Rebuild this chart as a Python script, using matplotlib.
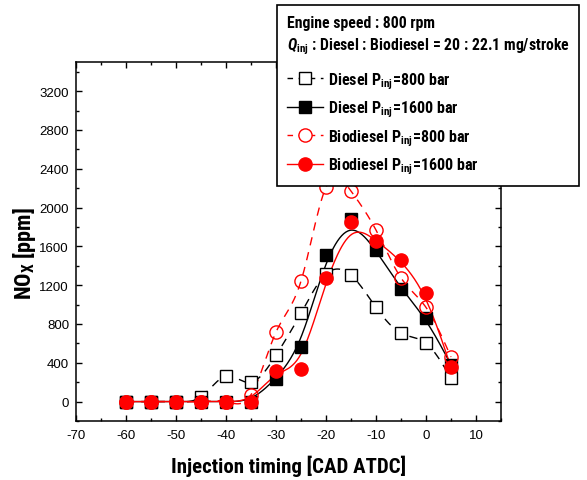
import numpy as np
import matplotlib
matplotlib.use('Agg')
import matplotlib.pyplot as plt
from matplotlib.lines import Line2D
from matplotlib import font_manager as fm
from matplotlib.ticker import MultipleLocator

# ---------------- data ----------------
timing = [-60, -55, -50, -45, -40, -35, -30, -25, -20, -15, -10, -5, 0, 5]
diesel_800 = [0, 0, 0, 50, 261, 199, 478, 910, 1314, 1303, 971, 705, 602, 240]
diesel_1600 = [0, 0, 0, 0, 0, 0, 230, 561, 1510, 1882, 1564, 1160, 862, 380]
bio_800 = [0, 0, 0, 0, 0, 70, 716, 1242, 2210, 2170, 1768, 1275, 971, 460]
bio_1600 = [0, 0, 0, 0, 0, 0, 320, 340, 1270, 1846, 1660, 1459, 1120, 353]

x_ticks = [-70, -60, -50, -40, -30, -20, -10, 0, 10]
y_ticks = [0, 400, 800, 1200, 1600, 2000, 2400, 2800, 3200]

# pick a narrow bold sans family (Arial Narrow look-alike)
bold_names = {f.name for f in fm.fontManager.ttflist
              if (f.weight if isinstance(f.weight, int) else 400) >= 600 or f.weight == 'bold'}
NARROW = 'Liberation Sans'
for cand in ['Liberation Sans Narrow', 'Arial Narrow', 'Roboto Condensed', 'PT Sans Narrow',
             'Open Sans Condensed', 'Fira Sans Condensed', 'IBM Plex Sans Condensed',
             'Barlow Semi Condensed', 'Asap Condensed']:
    if cand in bold_names:
        NARROW = cand
        break
REG = 'Liberation Sans'

plt.rcParams['mathtext.fontset'] = 'custom'
plt.rcParams['mathtext.rm'] = NARROW + ':bold'
plt.rcParams['mathtext.bf'] = NARROW + ':bold'
plt.rcParams['mathtext.it'] = NARROW + ':bold:italic'


def natural_spline(x, y, n=25):
    x = np.asarray(x, float); y = np.asarray(y, float)
    N = len(x); h = np.diff(x)
    A = np.zeros((N, N)); b = np.zeros(N)
    A[0, 0] = 1; A[-1, -1] = 1
    for i in range(1, N - 1):
        A[i, i - 1] = h[i - 1]; A[i, i] = 2 * (h[i - 1] + h[i]); A[i, i + 1] = h[i]
        b[i] = 6 * ((y[i + 1] - y[i]) / h[i] - (y[i] - y[i - 1]) / h[i - 1])
    M = np.linalg.solve(A, b)
    xs, ys = [], []
    for i in range(N - 1):
        t = np.linspace(x[i], x[i + 1], n, endpoint=(i == N - 2))
        a = x[i + 1] - t; c = t - x[i]
        s = (M[i] * a ** 3 + M[i + 1] * c ** 3) / (6 * h[i]) \
            + (y[i] / h[i] - M[i] * h[i] / 6) * a + (y[i + 1] / h[i] - M[i + 1] * h[i] / 6) * c
        xs.append(t); ys.append(s)
    return np.concatenate(xs), np.concatenate(ys)


def bspline(x, y, n=25):
    P = np.column_stack([x, y]).astype(float)
    P = np.vstack([P[0], P[0], P, P[-1], P[-1]])
    t = np.linspace(0, 1, n)
    b0 = (1 - t) ** 3 / 6
    b1 = (3 * t ** 3 - 6 * t ** 2 + 4) / 6
    b2 = (-3 * t ** 3 + 3 * t ** 2 + 3 * t + 1) / 6
    b3 = t ** 3 / 6
    pts = []
    for i in range(len(P) - 3):
        seg = (np.outer(b0, P[i]) + np.outer(b1, P[i + 1]) + np.outer(b2, P[i + 2])
               + np.outer(b3, P[i + 3]))
        pts.append(seg)
    pts = np.vstack(pts)
    return pts[:, 0], pts[:, 1]


fig = plt.figure(figsize=(5.87, 4.81), dpi=100)
ax = fig.add_axes([76 / 587, 1 - 422 / 481, (501 - 76) / 587, (422 - 63) / 481])

lw = 1.0
dash = (6, 5)
RED = '#ff0000'

# curves
cx, cy = natural_spline(timing, diesel_800)
ax.plot(cx, cy, color='black', lw=lw, dashes=dash, zorder=2)
cx, cy = bspline(timing, diesel_1600)
ax.plot(cx, cy, color='black', lw=lw, zorder=2)
cx, cy = natural_spline(timing, bio_800)
ax.plot(cx, cy, color=RED, lw=lw, dashes=dash, zorder=2)
cx, cy = bspline(timing, bio_1600)
ax.plot(cx, cy, color=RED, lw=lw, zorder=2)

# markers
ax.plot(timing, diesel_800, ls='none', marker='s', ms=8, mfc='white', mec='black', mew=1.0, zorder=3)
ax.plot(timing, diesel_1600, ls='none', marker='s', ms=8, mfc='black', mec='black', mew=1.0, zorder=4)
ax.plot(timing, bio_800, ls='none', marker='o', ms=9.5, mfc='none', mec=RED, mew=1.0, zorder=5)
ax.plot(timing, bio_1600, ls='none', marker='o', ms=9.5, mfc=RED, mec=RED, mew=1.0, zorder=6)

ax.set_xlim(-70, 15)
ax.set_ylim(-200, 3500)
ax.set_xticks(x_ticks)
ax.set_yticks(y_ticks)
ax.set_xticklabels([str(v) for v in x_ticks], fontfamily=REG, fontsize=9.5)
ax.set_yticklabels([str(v) for v in y_ticks], fontfamily=REG, fontsize=9.5)
ax.xaxis.set_minor_locator(MultipleLocator(5))
ax.yaxis.set_minor_locator(MultipleLocator(200))
ax.tick_params(which='both', direction='in', top=True, right=True, width=1.0)
ax.tick_params(which='major', length=4, pad=5)
ax.tick_params(which='minor', length=2.5)
ax.tick_params(axis='x', which='major', pad=6)
for s in ax.spines.values():
    s.set_linewidth(1.1)

ax.set_xlabel('Injection timing [CAD ATDC]', fontfamily=NARROW, fontweight='bold', fontsize=15)
ax.xaxis.set_label_coords(0.5, (422 - 473) / (422 - 63))
ax.xaxis.label.set_va('baseline')
ax.set_ylabel(r'NO$_\mathbf{X}$ [ppm]', fontfamily=NARROW, fontweight='bold', fontsize=16)
ax.yaxis.set_label_coords((24 - 76) / (501 - 76), (422 - 254) / (422 - 63))
ax.yaxis.label.set_va('center')

handles = [
    Line2D([], [], color='black', lw=lw, dashes=(4, 4), marker='s', ms=8, mfc='white', mec='black'),
    Line2D([], [], color='black', lw=lw, marker='s', ms=8, mfc='black', mec='black'),
    Line2D([], [], color=RED, lw=lw, dashes=(4, 4), marker='o', ms=9.5, mfc='white', mec=RED),
    Line2D([], [], color=RED, lw=lw, marker='o', ms=9.5, mfc=RED, mec=RED),
]
labels = [r'Diesel P$_\mathbf{inj}$=800 bar', r'Diesel P$_\mathbf{inj}$=1600 bar',
          r'Biodiesel P$_\mathbf{inj}$=800 bar', r'Biodiesel P$_\mathbf{inj}$=1600 bar']
title = 'Engine speed : 800 rpm\n' + r'$\mathit{Q}_\mathbf{inj}$' + ' : Diesel : Biodiesel = 20 : 22.1 mg/stroke'
fs = 11.5
leg = fig.legend(handles, labels, loc='upper left', bbox_to_anchor=(277 / 587, 1 - 6 / 481),
                 bbox_transform=fig.transFigure, title=title, alignment='left',
                 prop={'family': NARROW, 'weight': 'bold', 'size': fs},
                 title_fontproperties={'family': NARROW, 'weight': 'bold', 'size': 11.3},
                 frameon=True, fancybox=False, edgecolor='black', framealpha=1,
                 handlelength=2.3, handletextpad=0.3, labelspacing=0.5, borderpad=0.6,
                 borderaxespad=0)
leg.get_frame().set_linewidth(1.2)
leg.get_title().set_linespacing(1.4)
leg._legend_box.sep = 0.5 * fs + 4.5

fig.savefig('out.png', dpi=100)
